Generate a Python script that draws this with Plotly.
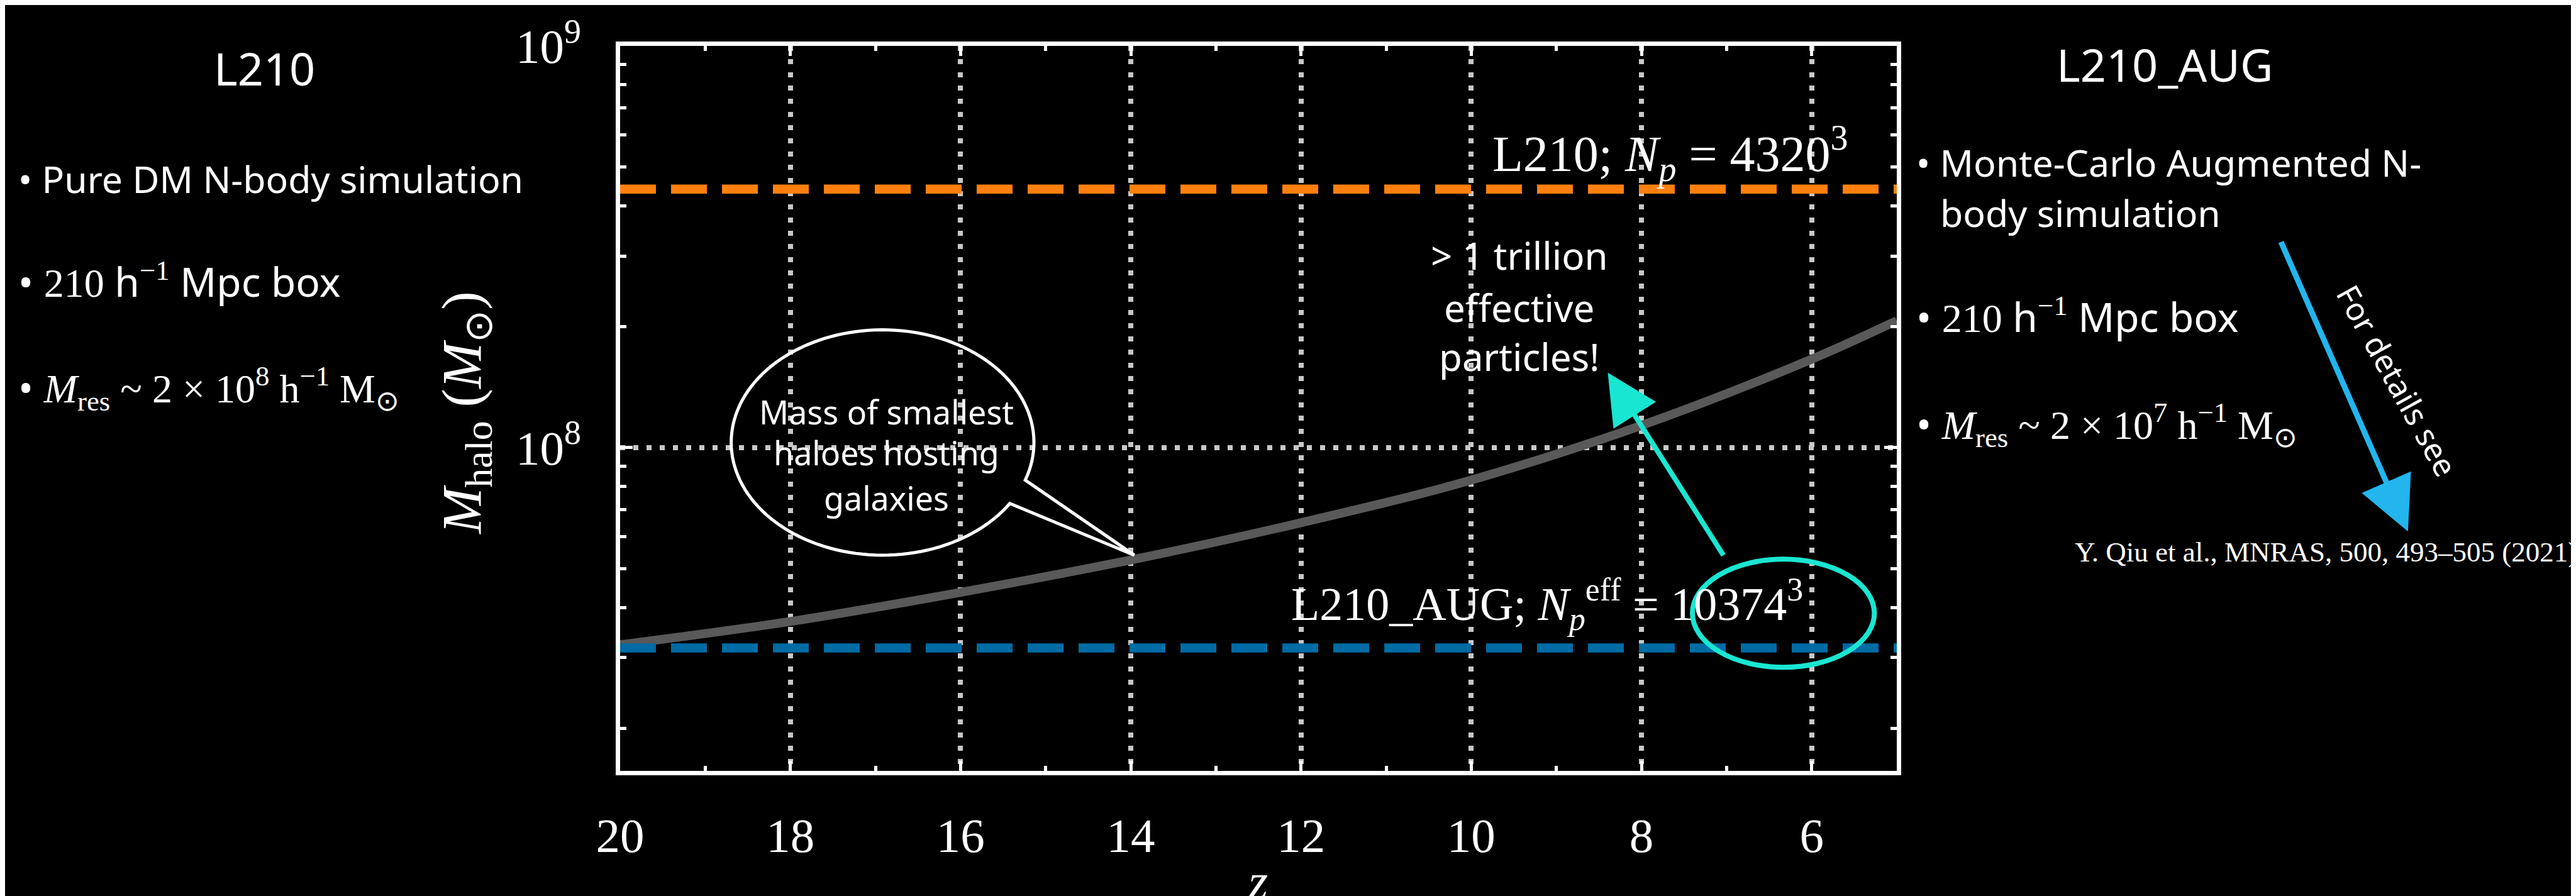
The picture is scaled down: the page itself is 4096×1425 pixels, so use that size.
import numpy as np
import plotly.graph_objects as go

# ---------------- data ----------------
z_curve = [20, 18, 16, 14, 12, 10, 8, 6, 5]
m_curve = [3.23e7, 3.69e7, 4.36e7, 5.25e7, 6.5e7, 8.3e7, 1.135e8, 1.66e8, 2.07e8]
z_span = [20, 5]
m_L210 = 4.4e8
m_AUG = 3.17e7
x_ticks = [20, 18, 16, 14, 12, 10, 8, 6]
y_major = [1e8, 1e9]
y_major_text = ["10<sup>8</sup>", "10<sup>9</sup>"]
y_minor = [k * 10 ** e for e in (7, 8) for k in range(2, 10)]

# ---------------- geometry helpers ----------------
W_REF, H_REF = 5055, 1759
S = 4096 / W_REF
PL, PR, PT, PB = 1207, 3712, 68, 1503  # plot frame in reference pixels


def px(X):
    return (X - PL) / (PR - PL)


def py(Y):
    return (PB - Y) / (PB - PT)


SERIF = "Liberation Serif"
SANS = "Noto Sans"
HAND = "Noto Sans"
WHITE = "white"
TEAL = "#19E6D2"
SKY = "#22B5EE"

fig = go.Figure()
fig.add_trace(go.Scatter(x=z_curve, y=m_curve, mode="lines", line=dict(color="#595959", width=14, shape="spline"),
                         showlegend=False, hoverinfo="skip"))
fig.add_trace(go.Scatter(x=z_span, y=[m_L210, m_L210], mode="lines",
                         line=dict(color="#FF800E", width=14.5, dash="57px,24px"), showlegend=False))
fig.add_trace(go.Scatter(x=z_span, y=[m_AUG, m_AUG], mode="lines",
                         line=dict(color="#006BA4", width=14.5, dash="57px,24px"), showlegend=False))

annotations = []


def ann(text, X, Y, size, family, xanchor="left", yanchor="middle", **kw):
    annotations.append(dict(text=text, x=px(X), y=py(Y), xref="paper", yref="paper", showarrow=False,
                            xanchor=xanchor, yanchor=yanchor, font=dict(size=size, family=family, color=WHITE), **kw))


def serif(t):
    return f'<span style="font-family:{SERIF}">{t}</span>'


# left panel text
ann("L210", 509, 112, 72, SANS, xanchor="center")
ann("• Pure DM N-body simulation", 23, 330, 59, SANS)
ann("• " + serif("210") + " h" + serif("<sup>−1</sup>") + " Mpc box", 23, 534, 64, SANS)
ann("• " + serif("<i>M</i><sub>res</sub> ~ 2 × 10<sup>8</sup> h<sup>−1</sup> M<sub>⊙</sub>"), 23, 746, 64, SANS)

# right panel text
ann("L210_AUG", 4238, 104, 72, SANS, xanchor="center")
ann("• Monte-Carlo Augmented N-", 3748, 298, 59, SANS)
ann("body simulation", 3795, 398, 59, SANS)
ann("• " + serif("210") + " h" + serif("<sup>−1</sup>") + " Mpc box", 3748, 604, 64, SANS)
ann("• " + serif("<i>M</i><sub>res</sub> ~ 2 × 10<sup>7</sup> h<sup>−1</sup> M<sub>⊙</sub>"), 3748, 818, 64, SANS)
ann("Y. Qiu et al., MNRAS, 500, 493–505 (2021)", 5050, 1070, 45, SERIF, xanchor="right")
ann("For details see", 4694, 730, 50, HAND, xanchor="center", textangle=61)

# labels inside the plot
ann("L210; <i>N</i><sub><i>p</i></sub> = 4320<sup>3</sup>", 3619, 281, 80, SERIF, xanchor="right")
ann("L210_AUG; <i>N</i><sub><i>p</i></sub><sup>eff</sup> = 10374<sup>3</sup>", 3530, 1173, 74, SERIF, xanchor="right")

# chalk texts
ann("Mass of smallest", 1729, 792, 52, HAND, xanchor="center")
ann("haloes hosting", 1729, 873, 52, HAND, xanchor="center")
ann("galaxies", 1729, 962, 52, HAND, xanchor="center")
ann("&gt; 1 trillion", 2971, 482, 60, HAND, xanchor="center")
ann("effective", 2971, 586, 60, HAND, xanchor="center")
ann("particles!", 2971, 683, 60, HAND, xanchor="center")

# axis titles
ann("<i>z</i>", 2458, 1722, 80, SERIF, xanchor="center")
ann("<i>M</i><sub>halo</sub> (<i>M</i><sub>⊙</sub>)", 903, 795, 88, SERIF, xanchor="center", textangle=-90)


# arrows
def arrow(tip, tail, color, width, size):
    annotations.append(dict(text="", x=px(tip[0]), y=py(tip[1]), xref="paper", yref="paper", showarrow=True,
                            ax=(tail[0] - tip[0]) * S, ay=(tail[1] - tip[1]) * S, axref="pixel", ayref="pixel",
                            arrowhead=2, arrowwidth=width, arrowsize=size, arrowcolor=color))


arrow((3145, 715), (3373, 1075), TEAL, 8, 2.0)
arrow((4715, 1029), (4465, 459), SKY, 9, 1.9)

shapes = []
# speech bubble
cx, cy, rx, ry = 1722, 853, 297, 223
th = np.linspace(np.radians(32.8), np.radians(379.5), 140)
pts = [(cx + rx * np.cos(t), cy + ry * np.sin(t)) for t in th] + [(2216, 1076)]
path = "M " + " L ".join(f"{px(a):.5f},{py(b):.5f}" for a, b in pts) + " Z"
shapes.append(dict(type="path", path=path, xref="paper", yref="paper", line=dict(color=WHITE, width=5)))
# ellipse around 10374^3
shapes.append(dict(type="circle", xref="paper", yref="paper", x0=px(3311), x1=px(3668), y0=py(1298), y1=py(1084),
                   line=dict(color=TEAL, width=8)))

axis_common = dict(showline=True, linecolor=WHITE, linewidth=6.5, mirror="allticks", ticks="inside",
                   tickcolor=WHITE, tickwidth=5, tickfont=dict(family=SERIF, size=77, color=WHITE),
                   showgrid=True, gridcolor="#C8C8C8", gridwidth=8, griddash="8px,13px", zeroline=False)

fig.update_xaxes(range=[20, 5], tickmode="array", tickvals=x_ticks, ticklen=16, ticklabelstandoff=30,
                 minor=dict(dtick=1, tick0=0, ticks="inside", ticklen=8, tickwidth=5, tickcolor=WHITE, showgrid=False),
                 **axis_common)
fig.update_yaxes(type="log", range=[np.log10(1.567e7), 9], tickmode="array", tickvals=y_major, ticktext=y_major_text,
                 ticklen=20, ticklabelstandoff=40,
                 minor=dict(tickmode="array", tickvals=y_minor, ticks="inside", ticklen=10, tickwidth=5,
                            tickcolor=WHITE, showgrid=False),
                 **axis_common)

fig.update_layout(width=4096, height=1425, paper_bgcolor="black", plot_bgcolor="black",
                  margin=dict(l=round(PL * S), r=round((W_REF - PR) * S), t=round(PT * S), b=round((H_REF - PB) * S)),
                  annotations=annotations, shapes=shapes, showlegend=False)

fig.write_html("out.html")
